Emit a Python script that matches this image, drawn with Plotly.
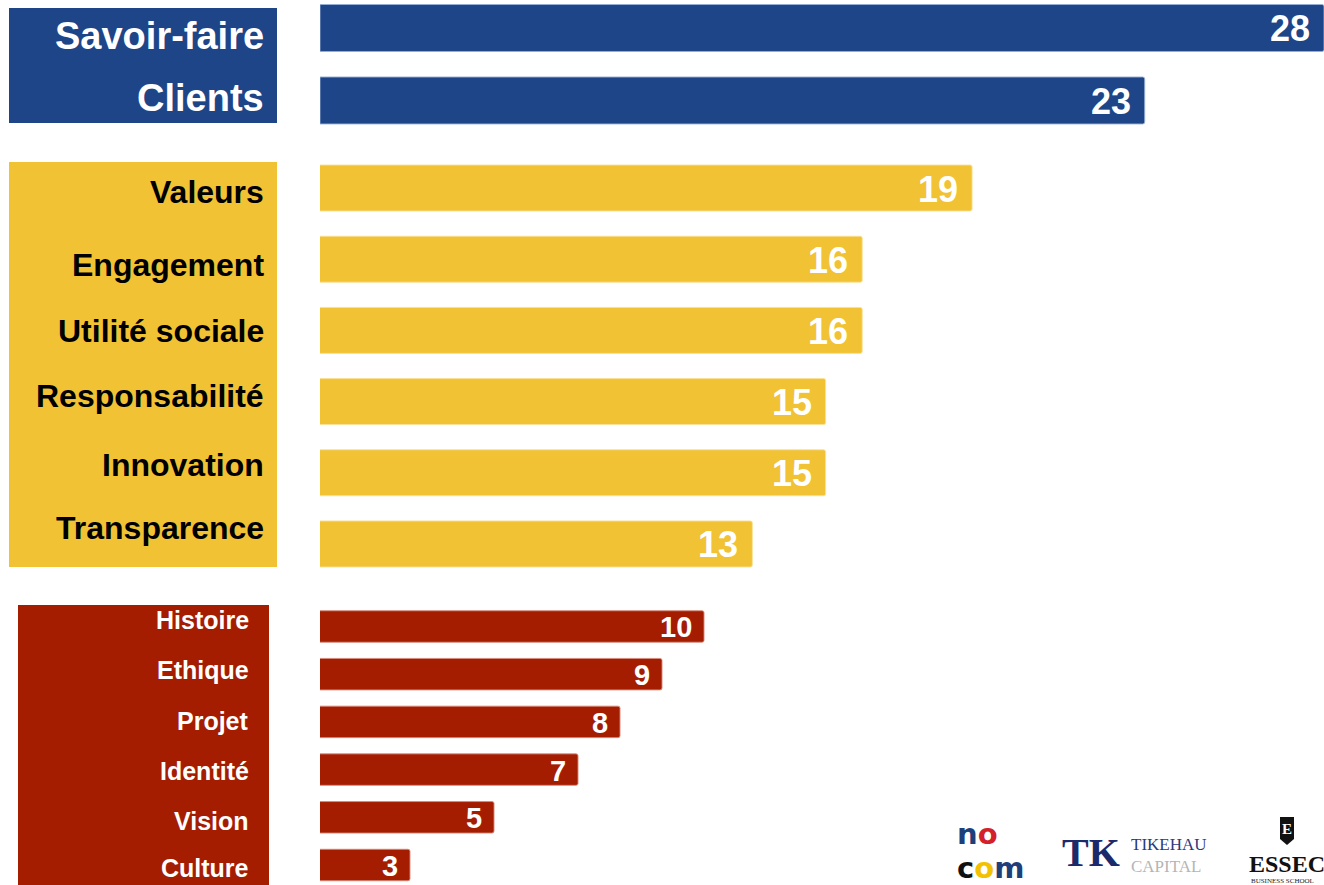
import plotly.graph_objects as go

W, H = 1324, 885

# ---- data ----
core_labels = ["Savoir-faire", "Clients"]
core_values = [28, 23]
mid_labels = ["Valeurs", "Engagement", "Utilité sociale", "Responsabilité", "Innovation", "Transparence"]
mid_values = [19, 16, 16, 15, 15, 13]
low_labels = ["Histoire", "Ethique", "Projet", "Identité", "Vision", "Culture"]
low_values = [10, 9, 8, 7, 5, 3]

BLUE = "#1E4588"
YELLOW = "#F1C233"
RED = "#A51D00"
FONT = "Liberation Sans, Arial, Helvetica, sans-serif"


def px(x):
    return x / W


def py(y):
    return 1 - y / H


groups = [
    dict(labels=core_labels, values=core_values, color=BLUE, edge="rgba(150,175,215,0.9)",
         xr=[0, 28], ydom=(0, 140), yr=[1.545, -0.386], width=0.648,
         box=(9, 8, 277, 123), lab_x=266, lab_size=38, lab_color="white",
         lab_shift=[-8, 2], val_size=36, val_pad=12),
    dict(labels=mid_labels, values=mid_values, color=YELLOW, edge="rgba(250,225,150,0.9)",
         xr=[1.193, 28.61], ydom=(150, 580), yr=[5.506, -0.534], width=0.646,
         box=(9, 162, 277, 567), lab_x=266, lab_size=32, lab_color="black",
         lab_shift=[-4, -6, -1, 6, 8, 16], val_size=36, val_pad=12),
    dict(labels=low_labels, values=low_values, color=RED, edge="rgba(215,140,125,0.9)",
         xr=[0.857, 24.76], ydom=(595, 885), yr=[5.419, -0.660], width=0.66,
         box=(18, 605, 269, 885), lab_x=251, lab_size=25, lab_color="white",
         lab_shift=[6, 4, 1, -1, -4, -3], val_size=29, val_pad=10),
]

fig = go.Figure()
layout = dict(
    width=W, height=H, margin=dict(l=0, r=0, t=0, b=0),
    paper_bgcolor="white", plot_bgcolor="rgba(0,0,0,0)", showlegend=False,
)
annotations = []
shapes = []

for i, g in enumerate(groups):
    n = "" if i == 0 else str(i + 1)
    xa, ya = "x" + n, "y" + n
    fig.add_trace(go.Bar(
        x=g["values"], y=g["labels"], orientation="h", xaxis=xa, yaxis=ya,
        width=g["width"], hoverinfo="skip",
        marker=dict(color=g["color"], line=dict(color=g["edge"], width=1), cornerradius=2),
    ))
    layout["xaxis" + n] = dict(domain=[px(320), 1], range=g["xr"], visible=False,
                               anchor=ya, fixedrange=True)
    layout["yaxis" + n] = dict(domain=[py(g["ydom"][1]), py(g["ydom"][0])], range=g["yr"],
                               type="category", categoryorder="array",
                               categoryarray=g["labels"], visible=False, anchor=xa,
                               fixedrange=True)
    x0, y0, x1, y1 = g["box"]
    shapes.append(dict(type="rect", xref="paper", yref="paper", x0=px(x0), x1=px(x1),
                       y0=py(y1), y1=py(y0), fillcolor=g["color"], line=dict(width=0),
                       layer="below"))
    for lab, val, sh in zip(g["labels"], g["values"], g["lab_shift"]):
        annotations.append(dict(
            xref="paper", yref=ya, x=px(g["lab_x"]), y=lab, xanchor="right", yanchor="middle",
            yshift=sh, showarrow=False, text="<b>%s</b>" % lab,
            font=dict(family=FONT, size=g["lab_size"], color=g["lab_color"])))
        annotations.append(dict(
            xref=xa, yref=ya, x=val, y=lab, xanchor="right", yanchor="middle",
            xshift=-g["val_pad"], yshift=-1, showarrow=False, text="<b>%d</b>" % val,
            font=dict(family=FONT, size=g["val_size"], color="white")))

# ---- logos (approximated with text) ----
SERIF = "Liberation Serif, Times New Roman, serif"
annotations += [
    dict(xref="paper", yref="paper", x=px(956), y=py(833.5), xanchor="left", yanchor="middle",
         showarrow=False, borderpad=0,
         text="<b><span style='color:#1d3f7a'>n</span><span style='color:#d3202c'>o</span></b>",
         font=dict(family="DejaVu Sans, sans-serif", size=29)),
    dict(xref="paper", yref="paper", x=px(956), y=py(867.5), xanchor="left", yanchor="middle",
         showarrow=False, borderpad=0,
         text="<b><span style='color:#111111'>c</span><span style='color:#f2c200'>o</span>"
              "<span style='color:#1d3f7a'>m</span></b>",
         font=dict(family="DejaVu Sans, sans-serif", size=29)),
    dict(xref="paper", yref="paper", x=px(1060), y=py(852), xanchor="left", yanchor="middle",
         showarrow=False, text="<b>TK</b>",
         font=dict(family=SERIF, size=40, color="#1b2a6b")),
    dict(xref="paper", yref="paper", x=px(1130), y=py(855), xanchor="left", yanchor="middle",
         showarrow=False, borderpad=0, align="left",
         text="TIKEHAU<br><span style='color:#b5b5b5'>CAPITAL</span>",
         font=dict(family=SERIF, size=17, color="#2b3a7c")),
    dict(xref="paper", yref="paper", x=px(1287), y=py(829), xanchor="center", yanchor="middle",
         showarrow=False, borderpad=0, text="<b>E</b>",
         font=dict(family=SERIF, size=15, color="white")),
    dict(xref="paper", yref="paper", x=px(1248), y=py(864), xanchor="left", yanchor="middle",
         showarrow=False, borderpad=0, text="<b>ESSEC</b>",
         font=dict(family=SERIF, size=24, color="#111111")),
    dict(xref="paper", yref="paper", x=px(1250), y=py(881), xanchor="left", yanchor="middle",
         showarrow=False, borderpad=0, text="BUSINESS SCHOOL",
         font=dict(family=SERIF, size=7, color="#222222")),
]

shapes.append(dict(
    type="path", xref="paper", yref="paper",
    path="M %f %f L %f %f L %f %f L %f %f L %f %f Z" % (
        px(1280), py(817), px(1294), py(817), px(1294), py(839),
        px(1287), py(845), px(1280), py(839)),
    fillcolor="#111111", line=dict(width=0)))

layout["annotations"] = annotations
layout["shapes"] = shapes
fig.update_layout(**layout)

fig.write_html("out.html")
